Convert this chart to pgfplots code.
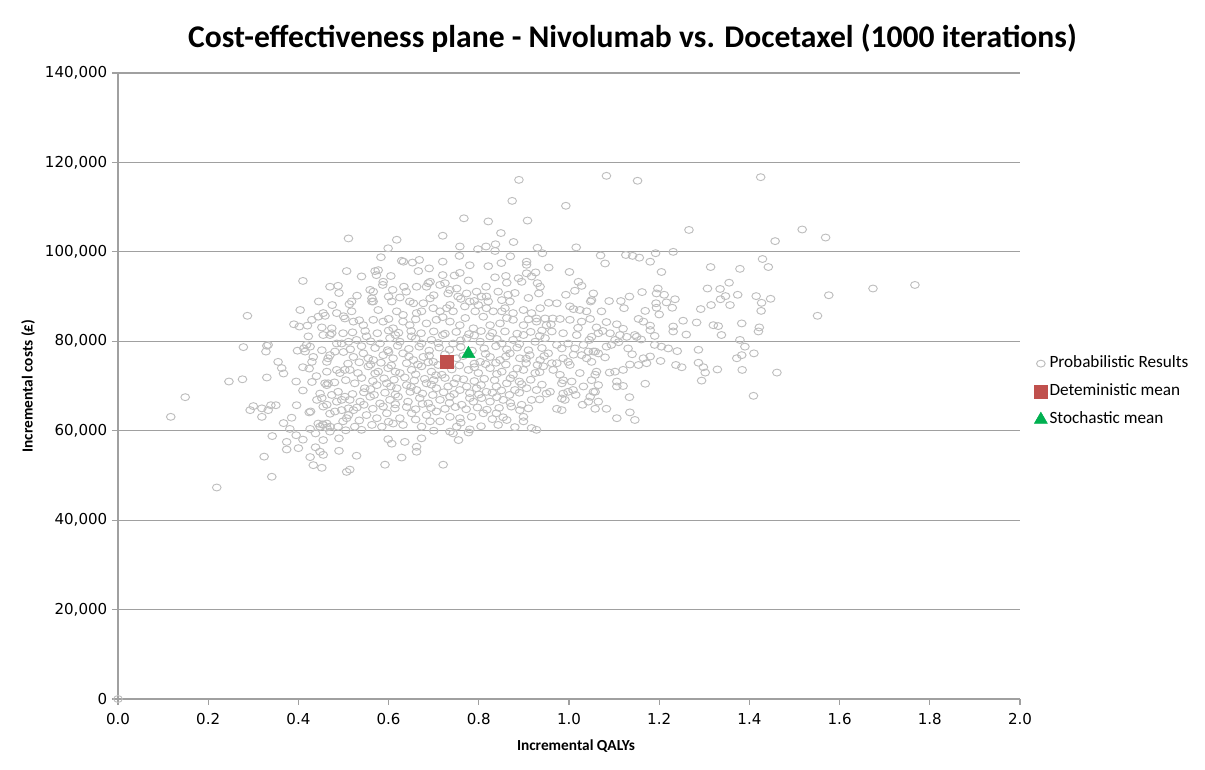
\documentclass[border=0pt]{standalone}
\usepackage{pgfplots}
\pgfplotsset{compat=1.18}
\usepackage{fontspec}
\setmainfont{Carlito}
\newfontfamily\tickfont{DejaVu Sans}

\definecolor{ptgray}{RGB}{190,190,190}
\definecolor{gridgray}{RGB}{160,160,160}
\definecolor{detred}{RGB}{192,80,77}
\definecolor{stogreen}{RGB}{0,176,80}

\begin{document}
\begin{tikzpicture}
\path[use as bounding box] (0,0) rectangle (903.75pt,577.5pt);
\begin{axis}[
  at={(88.5pt,53.25pt)}, anchor=south west,
  scale only axis, width=676.5pt, height=469.5pt,
  xmin=0, xmax=2, ymin=0, ymax=140000,
  axis lines*=left,
  axis line style={gridgray, line width=0.8pt},
  ymajorgrids, grid style={gridgray, line width=0.8pt},
  xtick={0,0.2,0.4,0.6,0.8,1,1.2,1.4,1.6,1.8,2},
  ytick={0,20000,40000,60000,80000,100000,120000,140000},
  tick align=outside, major tick length=4.5pt,
  tick style={gridgray, line width=0.8pt},
  /pgf/number format/assume math mode=true,
  tick label style={font=\tickfont\fontsize{11.3}{13}\selectfont},
  scaled y ticks=false,
  yticklabel style={/pgf/number format/.cd, fixed, 1000 sep={,}},
  xticklabel style={yshift=-2.5pt, /pgf/number format/.cd, fixed, fixed zerofill, precision=1},
  title={Cost-effectiveness plane - Nivolumab vs. Docetaxel (1000 iterations)},
  title style={font=\bfseries\fontsize{23.7}{28}\selectfont, at={(axis description cs:0.5704,1)}, anchor=base, yshift=12.75pt},
  xlabel={Incremental QALYs},
  xlabel style={font=\bfseries\fontsize{11.5}{14}\selectfont, at={(axis description cs:0.5078,0)}, anchor=base, yshift=-38.25pt},
  ylabel={Incremental costs (£)},
  ylabel style={font=\bfseries\fontsize{11.5}{14}\selectfont, at={(axis description cs:-0.0998,0.5)}, anchor=center},
  legend cell align=left,
  legend style={at={(axis description cs:1.011,0.491)}, anchor=west, draw=none, fill=none,
    font=\fontsize{12.9}{15}\selectfont, row sep=6pt,
    nodes={inner sep=1.5pt, text height=9pt, text depth=3pt}},
  legend image code/.code={\draw[mark repeat=2,mark phase=2,#1] plot coordinates {(0cm,0cm) (0.15cm,0cm) (0.3cm,0cm)};},
]

% probabilistic sensitivity analysis iterations
\addplot[only marks, mark=o, mark size=2.6pt, draw=ptgray,
  mark options={draw=ptgray, line width=0.7pt, xscale=1.25}] table {
x y
0.000 0
0.117 63100
0.149 67500
0.219 47300
0.246 71000
0.276 71500
0.278 78700
0.287 85700
0.330 79000
0.333 79200
0.328 77700
0.330 71900
0.293 64600
0.300 65500
0.319 65000
0.319 63100
0.333 64600
0.339 65700
0.350 65700
0.396 65700
0.355 75400
0.363 74000
0.367 72800
0.398 77900
0.412 78400
0.415 77700
0.418 79200
0.426 78800
0.367 61700
0.381 60400
0.342 58800
0.374 57500
0.374 55800
0.400 56100
0.324 54200
0.341 49700
0.424 64100
0.427 64300
0.426 60400
0.438 59400
0.448 60900
0.454 61400
0.463 60700
0.470 59800
0.455 57900
0.438 56300
0.448 55300
0.455 54600
0.426 54100
0.433 52300
0.452 51700
0.490 55500
0.507 50800
0.424 73900
0.430 75400
0.433 76500
0.452 78000
0.463 75400
0.466 76200
0.470 76900
0.463 73200
0.485 73600
0.492 72900
0.503 73600
0.481 77700
0.485 79500
0.496 79500
0.511 79900
0.470 81400
0.474 81800
0.499 81800
0.455 81400
0.422 81100
0.441 66900
0.452 67300
0.455 65400
0.463 65800
0.463 70200
0.474 68000
0.485 66500
0.488 68700
0.496 66900
0.503 67600
0.481 64300
0.496 64600
0.511 65000
0.448 68300
0.459 70600
0.466 70600
0.444 61600
0.455 61300
0.463 61600
0.470 60900
0.488 60900
0.499 62100
0.507 62800
0.511 63500
0.511 103000
0.507 95700
0.410 93500
0.470 92200
0.488 92400
0.513 88300
0.404 87000
0.444 85500
0.455 86300
0.459 85700
0.485 86300
0.503 85100
0.402 83300
0.420 83500
0.452 83100
0.474 82900
0.889 116100
0.874 111400
0.767 107500
0.821 106800
0.908 107000
0.849 104200
0.618 102700
0.720 103600
0.877 102200
0.758 101200
0.757 99100
0.798 100600
0.816 101200
0.837 101700
0.836 100200
0.599 100800
0.930 100900
0.941 99700
0.583 98800
0.629 98000
0.633 97800
0.653 97600
0.668 98200
0.821 96800
0.906 97800
0.906 97100
0.906 95200
0.540 94500
0.570 95700
0.577 95900
0.573 94800
0.605 94600
0.666 95700
0.720 94800
0.746 94700
0.758 95300
0.777 93600
0.836 94300
0.860 94600
0.862 93100
0.888 94100
0.895 93300
0.917 94500
0.926 95400
0.930 93000
0.936 92200
0.933 90700
0.559 91500
0.566 91100
0.563 89600
0.566 88900
0.588 93300
0.587 92600
0.609 91500
0.634 92200
0.639 91100
0.662 92200
0.688 93000
0.692 93300
0.684 92200
0.714 92600
0.725 93000
0.736 91500
0.732 90700
0.751 91800
0.754 90000
0.773 90700
0.795 91100
0.806 90000
0.816 92200
0.817 90000
0.821 88900
0.843 91100
0.851 89200
0.865 90400
0.869 88900
0.518 88900
0.518 86700
0.563 88900
0.577 87000
0.607 88900
0.647 88900
0.655 88500
0.677 88500
0.692 89600
0.699 87400
0.714 86700
0.729 87400
0.736 88100
0.743 86700
0.618 86700
0.632 85900
0.662 86300
0.673 86700
0.769 87800
0.780 88900
0.792 86700
0.799 88100
0.817 87400
0.832 86700
0.851 86700
0.858 87400
0.876 86300
0.899 87000
0.917 86300
0.928 85100
0.936 87400
0.947 85100
0.522 84400
0.544 83600
0.566 84800
0.588 84400
0.610 82900
0.632 84400
0.647 83600
0.684 84000
0.706 84800
0.736 84400
0.758 83600
0.788 82900
0.825 83600
0.847 84000
0.876 84800
0.899 83600
0.928 84400
0.950 83600
1.083 117000
1.152 115900
0.993 110300
1.266 104900
1.016 101000
1.070 99200
1.080 97400
1.126 99300
1.141 99100
1.156 98700
1.180 97800
1.192 99700
1.231 100000
1.001 95500
1.205 95500
1.314 96600
1.379 96200
1.021 93300
1.028 92400
1.013 91300
0.993 90400
0.973 88500
1.054 90700
1.050 89200
1.048 88900
1.089 89000
1.115 89000
1.134 90000
1.122 87400
1.162 91000
1.197 91800
1.194 90700
1.211 90400
1.193 88500
1.194 87500
1.216 88700
1.235 89400
1.229 87500
1.169 86800
1.072 86700
1.002 87800
1.010 87200
1.024 87000
1.039 86700
1.307 91800
1.335 91700
1.355 93100
1.347 90100
1.336 89400
1.357 88100
1.374 90400
1.315 88100
1.292 87200
1.383 84000
1.320 83600
1.331 83400
1.283 84200
1.253 84600
1.231 83300
1.154 85000
1.165 84400
1.180 83500
1.106 83800
1.083 84300
1.061 83100
1.047 85000
1.028 84400
1.002 84800
0.980 85000
0.964 85100
1.425 116700
1.517 105000
1.569 103200
1.457 102400
1.429 98400
1.442 96600
1.415 90100
1.427 88600
1.447 89500
1.426 86800
1.576 90300
1.674 91800
1.767 92600
1.551 85700
1.422 83100
1.420 82200
1.410 77300
1.461 73000
1.409 67800
0.962 82200
0.987 81800
1.017 81400
1.050 81000
1.065 81800
1.091 81800
1.113 81400
1.128 81000
1.146 81400
1.150 81000
1.180 82500
1.231 82200
1.338 81400
1.379 80300
1.390 78800
0.973 79200
0.984 78400
0.998 79500
1.013 78400
1.032 79200
1.043 77700
1.058 77700
1.065 77300
1.083 78800
1.094 79200
1.102 80300
1.131 78400
1.190 79200
1.205 78800
1.220 78400
1.287 78100
0.962 75100
0.973 75100
0.987 76200
0.998 75400
1.002 74700
1.028 76900
1.039 76200
1.050 75400
1.054 77700
1.102 73200
1.120 73600
1.135 74800
1.154 74700
1.165 76200
1.172 75100
1.180 76600
1.203 75600
1.237 74700
1.250 74200
1.287 75200
1.298 74200
1.302 73000
1.294 71200
1.329 73700
1.372 76200
1.383 76900
1.384 73600
0.965 73600
0.980 72500
0.987 71300
0.984 70600
1.006 71000
1.024 72900
1.032 69900
1.050 71300
1.058 72500
1.061 73200
1.065 70200
1.054 68700
1.106 71000
1.106 69900
1.169 70500
0.958 68700
0.987 68300
0.998 68700
1.009 69100
0.984 67200
0.991 66900
1.047 67600
1.058 68700
1.043 66500
1.065 66500
1.134 67500
0.973 64900
0.984 64600
1.058 64900
1.083 64900
1.106 62800
1.135 64100
1.146 62400
0.599 58100
0.607 57100
0.636 57500
0.662 56400
0.662 55300
0.673 58300
0.736 59800
0.743 59400
0.755 57900
0.777 59600
0.529 54400
0.592 52400
0.629 54000
0.721 52400
0.514 51300
0.525 60900
0.540 60200
0.563 61300
0.585 60900
0.610 61600
0.632 61300
0.673 60900
0.692 62100
0.714 62100
0.751 60900
0.780 60300
0.843 61300
0.862 62400
0.899 62100
0.917 60600
0.928 60200
0.522 64600
0.551 63500
0.574 62800
0.596 63900
0.625 62800
0.651 63900
0.684 63500
0.706 64300
0.736 63100
0.758 62800
0.784 63100
0.810 63900
0.839 63900
0.854 63000
0.891 64600
0.899 63100
0.514 66900
0.537 66500
0.559 67600
0.581 66100
0.603 66900
0.621 67600
0.643 66500
0.669 67300
0.688 66100
0.714 66900
0.736 67600
0.762 65800
0.788 66500
0.806 67300
0.825 66500
0.854 66900
0.895 65800
0.917 66900
0.525 70600
0.547 69500
0.574 70200
0.596 70600
0.618 69500
0.640 70200
0.662 69100
0.684 70600
0.706 69500
0.732 69900
0.758 69100
0.773 69900
0.795 69500
0.817 68700
0.839 69900
0.862 70600
0.880 69100
0.906 69500
0.928 69100
0.950 68300
0.514 73600
0.532 72900
0.555 74400
0.577 73200
0.599 74000
0.625 72900
0.651 73600
0.673 74400
0.695 73200
0.718 72500
0.751 71700
0.777 73600
0.799 72900
0.825 74000
0.851 73200
0.876 72500
0.899 73600
0.925 72900
0.943 74400
0.522 76500
0.544 77300
0.566 75800
0.588 76900
0.610 76200
0.632 77300
0.655 75800
0.677 76500
0.699 75400
0.751 76200
0.803 75400
0.825 76500
0.847 75800
0.869 77300
0.891 76200
0.913 76900
0.936 75800
0.954 77300
0.529 80300
0.551 81100
0.581 79500
0.603 80700
0.625 79900
0.651 81100
0.673 79500
0.695 80300
0.720 81400
0.743 79500
0.773 80700
0.803 79900
0.825 81100
0.851 79500
0.876 80300
0.899 81400
0.925 79900
0.947 80700
0.515 78200
0.540 78900
0.570 78500
0.598 78000
0.620 79000
0.645 78300
0.668 78800
0.690 77900
0.712 78600
0.735 78100
0.760 78700
0.785 77900
0.812 78400
0.838 78900
0.862 78200
0.885 78600
0.910 78000
0.940 78500
0.510 75000
0.535 75300
0.560 74800
0.583 75200
0.606 74600
0.640 75100
0.665 74800
0.688 75300
0.710 74700
0.757 74600
0.790 75000
0.815 74900
0.838 75200
0.860 74800
0.905 75100
0.930 74700
0.505 71300
0.540 71800
0.565 71100
0.590 71700
0.612 71400
0.636 71900
0.657 71200
0.680 71600
0.700 71300
0.725 71800
0.766 71500
0.790 71100
0.812 71600
0.835 71300
0.870 71700
0.890 71000
0.915 71400
0.520 68200
0.545 68600
0.568 68000
0.592 68500
0.615 68100
0.648 68700
0.675 68300
0.698 68000
0.722 68600
0.745 68200
0.780 68400
0.800 68100
0.830 68500
0.868 68000
0.890 68500
0.530 65200
0.565 64900
0.588 65400
0.614 65000
0.640 65300
0.660 64800
0.694 65100
0.725 64900
0.748 65300
0.772 64800
0.797 65200
0.818 64700
0.845 65100
0.872 65400
0.910 65000
0.520 82000
0.548 82300
0.575 81800
0.600 82400
0.622 81900
0.650 82300
0.672 81800
0.700 82200
0.725 81700
0.750 82100
0.778 81600
0.805 82300
0.830 81900
0.858 82200
0.885 81700
0.915 82100
0.940 82400
0.530 90200
0.600 90000
0.625 89800
0.700 90300
0.760 89500
0.790 89000
0.880 90800
0.910 89700
0.955 88600
0.690 96300
0.720 97800
0.780 97000
0.850 97500
0.955 96500
0.870 99000
0.535 62300
0.600 62000
0.660 62500
0.700 60000
0.760 61800
0.805 61000
0.830 62600
0.880 60800
0.545 65800
0.615 65900
0.675 66000
0.735 66200
0.780 67300
0.840 67500
0.870 66200
0.935 67000
0.560 69300
0.605 69900
0.650 69800
0.695 70300
0.745 70600
0.805 70200
0.850 69000
0.895 70400
0.940 70300
0.570 72800
0.615 73200
0.660 72600
0.705 72400
0.740 73700
0.790 74200
0.840 72700
0.885 73900
0.935 73100
0.555 76200
0.600 77600
0.645 76600
0.690 76800
0.725 77100
0.765 76700
0.815 77200
0.860 76600
0.905 76100
0.945 76700
0.560 80000
0.615 81400
0.660 80600
0.710 79600
0.760 80200
0.790 81300
0.840 80500
0.890 79400
0.935 81200
0.535 84700
0.600 85000
0.660 84900
0.720 85400
0.770 85200
0.810 85500
0.862 85200
0.910 84900
0.960 83800
1.020 83000
1.075 82300
1.120 82800
1.190 81200
1.045 80300
1.110 79800
1.160 80400
1.010 77000
1.080 76400
1.140 77100
1.120 70000
1.015 68000
1.090 73000
1.030 65800
1.200 86000
1.260 81500
1.240 77800
0.390 83800
0.430 84800
0.445 88900
0.475 88100
0.490 90800
0.500 85600
0.395 71000
0.410 69000
0.430 70900
0.410 74200
0.440 72200
0.470 63800
0.490 58300
0.505 60100
0.480 70800
0.500 77600
0.385 62900
0.395 59000
0.410 58000
};
\addlegendentry{Probabilistic Results}

% base-case result
\addplot[only marks, mark=square*, mark size=5pt, color=detred,
  mark options={draw=detred, fill=detred}] coordinates {(0.729,75400)};
\addlegendentry{Deteministic mean}

% mean of the simulated iterations
\addplot[only marks, mark=triangle*, mark size=5.6pt, color=stogreen,
  mark options={draw=stogreen, fill=stogreen}] coordinates {(0.777,77200)};
\addlegendentry{Stochastic mean}
\end{axis}
\end{tikzpicture}
\end{document}
